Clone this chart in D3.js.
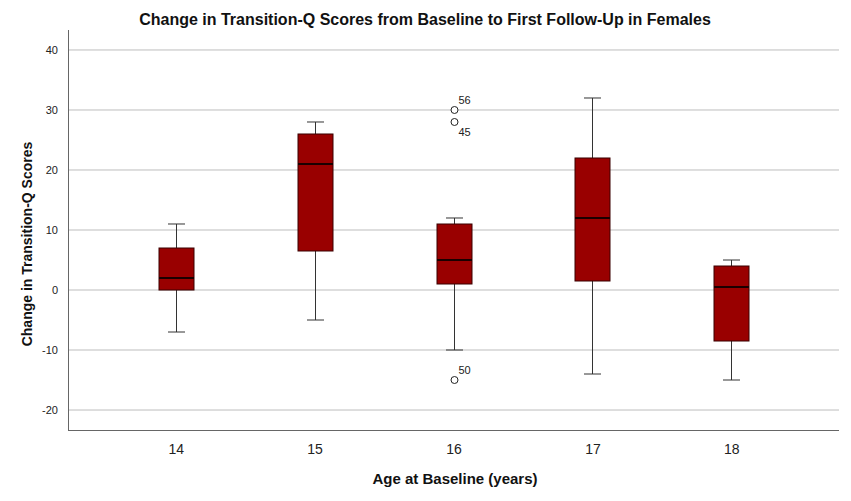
<!DOCTYPE html>
<html><head><meta charset="utf-8">
<script src="https://cdn.jsdelivr.net/npm/d3@7"></script>
<style>body{margin:0;background:#fff}svg{display:block}text{font-family:"Liberation Sans",Arial,sans-serif}</style>
</head><body><svg id="c" width="851" height="501"></svg>
<script>
const categories = ["14","15","16","17","18"];
const whiskerLow  = [-7, -5, -10, -14, -15];
const q1          = [0, 6.5, 1, 1.5, -8.5];
const median      = [2, 21, 5, 12, 0.5];
const q3          = [7, 26, 11, 22, 4];
const whiskerHigh = [11, 28, 12, 32, 5];
const outlierCat   = ["16","16","16"];
const outlierValue = [30, 28, -15];
const outlierLabel = ["56","45","50"];
const yTicks = [-20,-10,0,10,20,30,40];

const svg = d3.select("#c");
const L = 68, R = 839, T = 30, B = 430;
const x = d3.scalePoint().domain(categories).range([L, R]).padding(0.775);
const y = d3.scaleLinear().domain([-23.33, 43.33]).range([B, T]);

// grid
svg.append("g").selectAll("line").data(yTicks).join("line")
  .attr("x1", L).attr("x2", R).attr("y1", d => y(d)).attr("y2", d => y(d))
  .attr("stroke", "#bdbdbd").attr("stroke-width", 1);

// y axis
const ya = svg.append("g").attr("transform", `translate(${L},0)`)
  .call(d3.axisLeft(y).tickValues(yTicks).tickFormat(d => String(d)).tickSize(0).tickPadding(10));
ya.select(".domain").remove();
ya.selectAll("text").attr("font-size", 11).attr("fill", "#222").style("font-family", '"Liberation Sans",Arial,sans-serif');
svg.append("line").attr("x1", L+0.5).attr("x2", L+0.5).attr("y1", T).attr("y2", B).attr("stroke", "#666");

// x axis
const xa = svg.append("g").attr("transform", `translate(0,${B})`)
  .call(d3.axisBottom(x).tickSize(0).tickPadding(14));
xa.select(".domain").remove();
xa.selectAll("text").attr("font-size", 14).attr("fill", "#222").style("font-family", '"Liberation Sans",Arial,sans-serif');
svg.append("line").attr("x1", L).attr("x2", R).attr("y1", B+0.5).attr("y2", B+0.5).attr("stroke", "#666");

const bw = 35, cw = 17;
const g = svg.append("g");
categories.forEach((c, i) => {
  const cx = Math.round(x(c)) + 0.5;
  g.append("line").attr("x1", cx).attr("x2", cx).attr("y1", y(whiskerHigh[i])).attr("y2", y(q3[i])).attr("stroke", "#333");
  g.append("line").attr("x1", cx).attr("x2", cx).attr("y1", y(q1[i])).attr("y2", y(whiskerLow[i])).attr("stroke", "#333");
  g.append("line").attr("x1", cx-cw/2).attr("x2", cx+cw/2).attr("y1", y(whiskerHigh[i])).attr("y2", y(whiskerHigh[i])).attr("stroke", "#333");
  g.append("line").attr("x1", cx-cw/2).attr("x2", cx+cw/2).attr("y1", y(whiskerLow[i])).attr("y2", y(whiskerLow[i])).attr("stroke", "#333");
  g.append("rect").attr("x", cx-bw/2).attr("width", bw).attr("y", y(q3[i])).attr("height", y(q1[i]) - y(q3[i]))
    .attr("fill", "#990000").attr("stroke", "#3a0000").attr("stroke-width", 1);
  g.append("line").attr("x1", cx-bw/2).attr("x2", cx+bw/2).attr("y1", y(median[i])).attr("y2", y(median[i])).attr("stroke", "#1a0000").attr("stroke-width", 2);
});

// outliers
outlierCat.forEach((c, i) => {
  const cx = Math.round(x(c)) + 0.5;
  g.append("circle").attr("cx", cx).attr("cy", y(outlierValue[i])).attr("r", 3.5)
    .attr("fill", "#fff").attr("stroke", "#222").attr("stroke-width", 1);
  const above = outlierLabel[i] !== "45";
  g.append("text").attr("x", cx + 4).attr("y", y(outlierValue[i]) + (above ? -6 : 14))
    .attr("font-size", 11).attr("fill", "#222").text(outlierLabel[i]);
});

// titles
svg.append("text").attr("x", 425).attr("y", 25).attr("text-anchor", "middle")
  .attr("font-size", 16).attr("font-weight", "bold").attr("fill", "#111")
  .text("Change in Transition-Q Scores from Baseline to First Follow-Up in Females");
svg.append("text").attr("x", 455).attr("y", 484).attr("text-anchor", "middle")
  .attr("font-size", 15).attr("font-weight", "bold").attr("fill", "#111")
  .text("Age at Baseline (years)");
svg.append("text").attr("transform", "translate(32,244) rotate(-90)").attr("text-anchor", "middle")
  .attr("font-size", 14).attr("font-weight", "bold").attr("fill", "#111")
  .text("Change in Transition-Q Scores");
</script></body></html>
